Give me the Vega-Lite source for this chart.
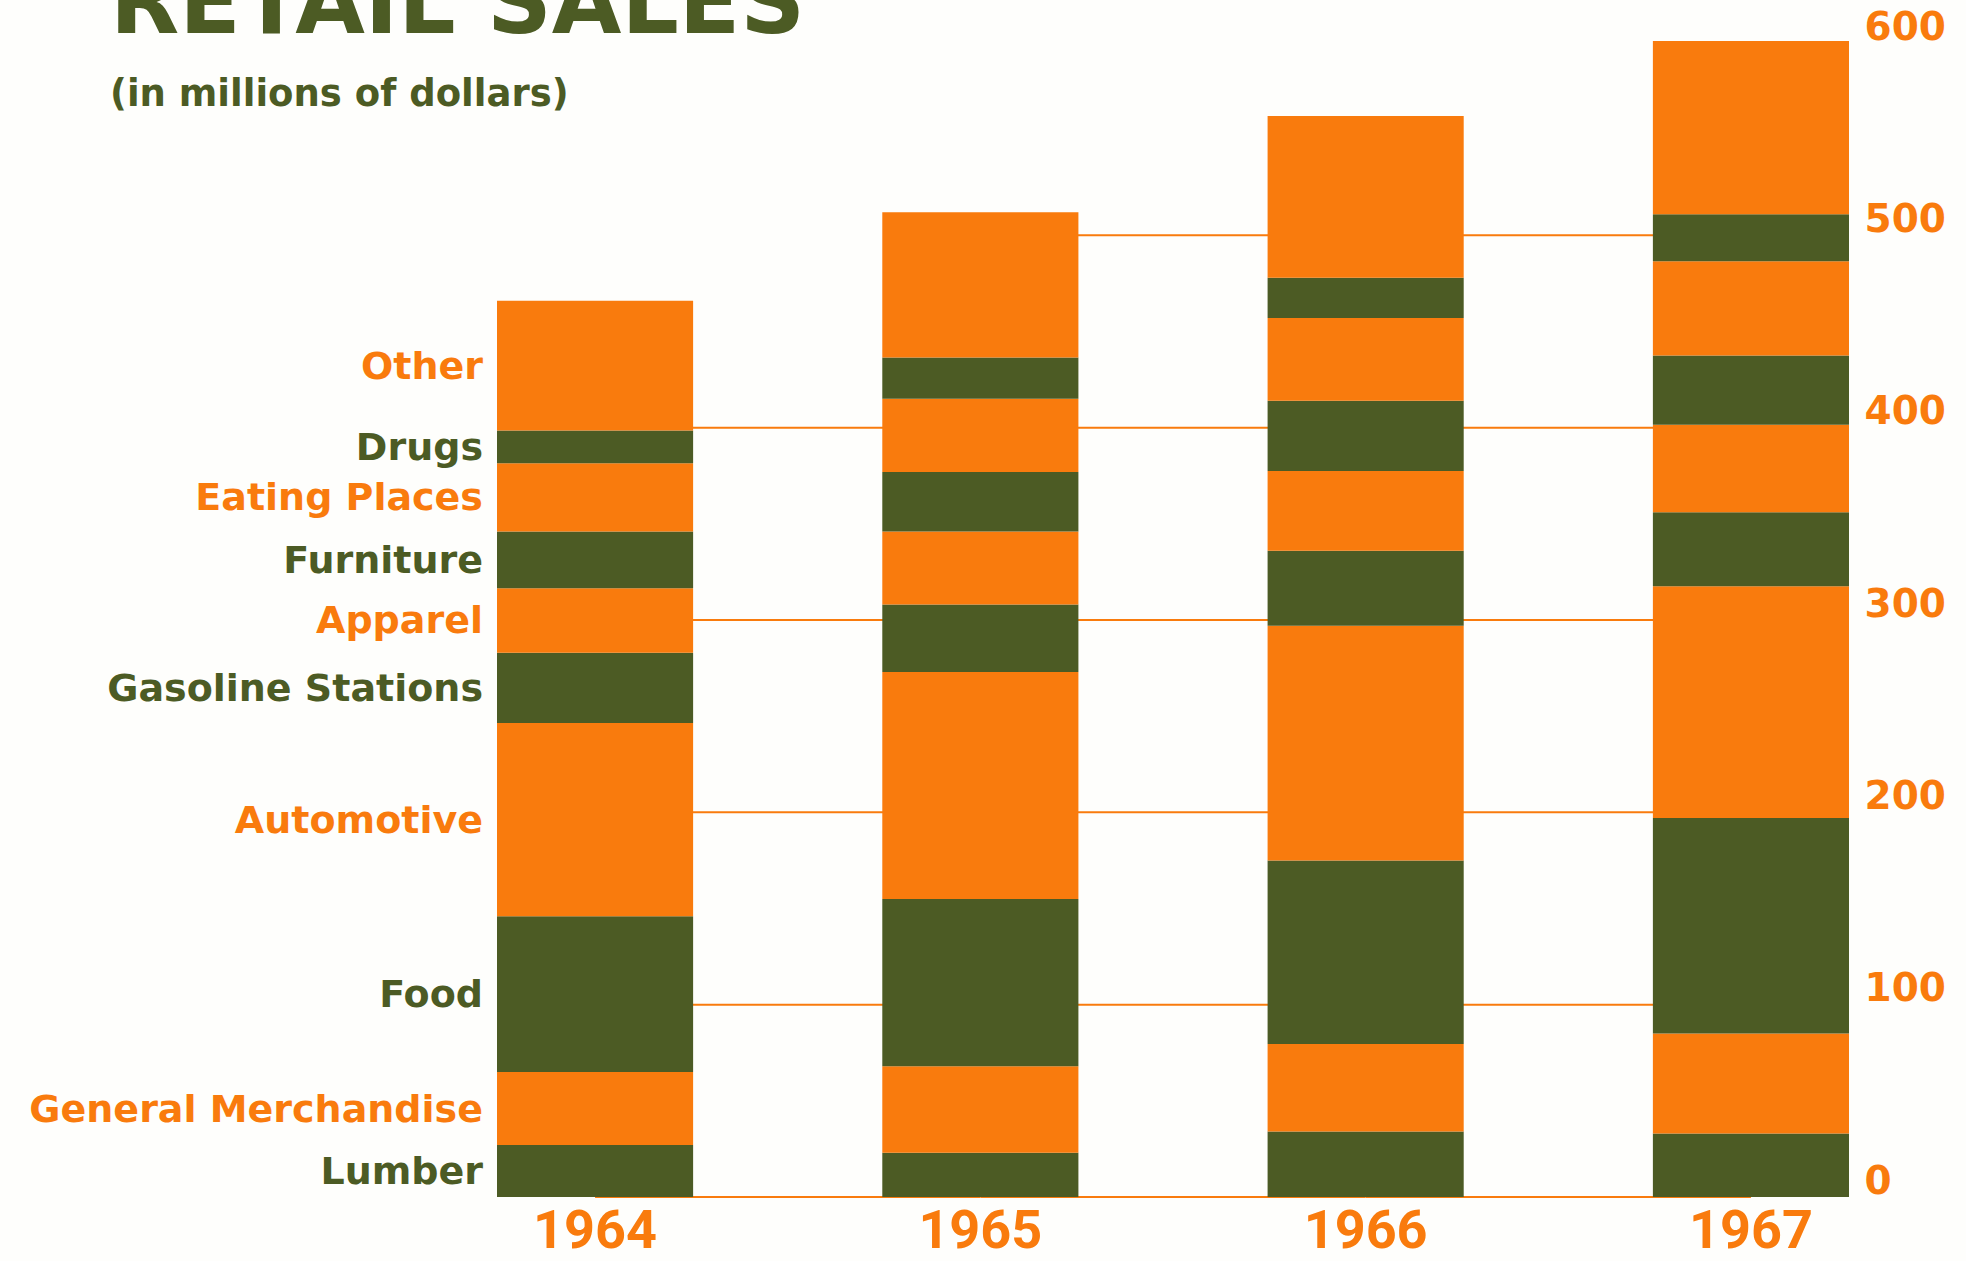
{
  "$schema": "https://vega.github.io/schema/vega-lite/v6.json",
  "width": 1352,
  "height": 1154,
  "autosize": {"type": "none"},
  "padding": {"left": 497, "top": 43, "right": 117, "bottom": 64},
  "background": "#FEFEFC",
  "config": {"view": {"stroke": null}},
  "title": {
    "text": "RETAIL  SALES",
    "subtitle": "(in millions of dollars)",
    "anchor": "start",
    "frame": "group",
    "dx": -387,
    "dy": 110,
    "font": "DejaVu Sans",
    "fontSize": 90,
    "fontWeight": "bold",
    "color": "#4C5B24",
    "subtitleFont": "DejaVu Sans",
    "subtitleFontSize": 37,
    "subtitleFontWeight": "bold",
    "subtitleColor": "#4C5B24",
    "subtitlePadding": 25
  },
  "datasets": {
    "sales": [
      {"year": "1964", "category": "Lumber", "value": 27},
      {"year": "1964", "category": "General Merchandise", "value": 38},
      {"year": "1964", "category": "Food", "value": 81},
      {"year": "1964", "category": "Automotive", "value": 100.5},
      {"year": "1964", "category": "Gasoline Stations", "value": 36.5},
      {"year": "1964", "category": "Apparel", "value": 33.5},
      {"year": "1964", "category": "Furniture", "value": 29.5},
      {"year": "1964", "category": "Eating Places", "value": 35.5},
      {"year": "1964", "category": "Drugs", "value": 17},
      {"year": "1964", "category": "Other", "value": 67.5},
      {"year": "1965", "category": "Lumber", "value": 23},
      {"year": "1965", "category": "General Merchandise", "value": 45},
      {"year": "1965", "category": "Food", "value": 87},
      {"year": "1965", "category": "Automotive", "value": 118},
      {"year": "1965", "category": "Gasoline Stations", "value": 35},
      {"year": "1965", "category": "Apparel", "value": 38},
      {"year": "1965", "category": "Furniture", "value": 31},
      {"year": "1965", "category": "Eating Places", "value": 38},
      {"year": "1965", "category": "Drugs", "value": 21.5},
      {"year": "1965", "category": "Other", "value": 75.5},
      {"year": "1966", "category": "Lumber", "value": 34},
      {"year": "1966", "category": "General Merchandise", "value": 45.5},
      {"year": "1966", "category": "Food", "value": 95.5},
      {"year": "1966", "category": "Automotive", "value": 122},
      {"year": "1966", "category": "Gasoline Stations", "value": 39},
      {"year": "1966", "category": "Apparel", "value": 41.5},
      {"year": "1966", "category": "Furniture", "value": 36.5},
      {"year": "1966", "category": "Eating Places", "value": 43},
      {"year": "1966", "category": "Drugs", "value": 21},
      {"year": "1966", "category": "Other", "value": 84},
      {"year": "1967", "category": "Lumber", "value": 33},
      {"year": "1967", "category": "General Merchandise", "value": 52},
      {"year": "1967", "category": "Food", "value": 112},
      {"year": "1967", "category": "Automotive", "value": 120.5},
      {"year": "1967", "category": "Gasoline Stations", "value": 38.5},
      {"year": "1967", "category": "Apparel", "value": 45.5},
      {"year": "1967", "category": "Furniture", "value": 36},
      {"year": "1967", "category": "Eating Places", "value": 49},
      {"year": "1967", "category": "Drugs", "value": 24.5},
      {"year": "1967", "category": "Other", "value": 90}
    ],
    "gridlines": [
      {"from": "1964", "to": "1965", "level": 0},
      {"from": "1964", "to": "1965", "level": 100},
      {"from": "1964", "to": "1965", "level": 200},
      {"from": "1964", "to": "1965", "level": 300},
      {"from": "1964", "to": "1965", "level": 400},
      {"from": "1965", "to": "1966", "level": 0},
      {"from": "1965", "to": "1966", "level": 100},
      {"from": "1965", "to": "1966", "level": 200},
      {"from": "1965", "to": "1966", "level": 300},
      {"from": "1965", "to": "1966", "level": 400},
      {"from": "1965", "to": "1966", "level": 500},
      {"from": "1966", "to": "1967", "level": 0},
      {"from": "1966", "to": "1967", "level": 100},
      {"from": "1966", "to": "1967", "level": 200},
      {"from": "1966", "to": "1967", "level": 300},
      {"from": "1966", "to": "1967", "level": 400},
      {"from": "1966", "to": "1967", "level": 500}
    ]
  },
  "layer": [
    {
      "data": {"name": "gridlines"},
      "mark": {"type": "rule", "color": "#F97B0D", "strokeWidth": 2},
      "encoding": {
        "x": {"field": "from", "type": "nominal"},
        "x2": {"field": "to"},
        "y": {"field": "level", "type": "quantitative"}
      }
    },
    {
      "data": {"name": "sales"},
      "transform": [
        {"calculate": "indexof(['Lumber','General Merchandise','Food','Automotive','Gasoline Stations','Apparel','Furniture','Eating Places','Drugs','Other'], datum.category)", "as": "k"}
      ],
      "mark": {"type": "bar"},
      "encoding": {
        "x": {
          "field": "year", "type": "nominal",
          "scale": {"paddingInner": 0.491, "paddingOuter": 0},
          "axis": {
            "orient": "bottom", "title": null, "domain": false, "ticks": false,
            "labelAngle": 0, "labelFont": "Roboto", "labelAlign": "center",
            "labelFontSize": 54, "labelFontWeight": "bold", "labelColor": "#F97B0D",
            "labelPadding": 50, "labelBaseline": "alphabetic"
          }
        },
        "y": {
          "aggregate": "sum", "field": "value", "type": "quantitative", "stack": "zero",
          "scale": {"domain": [0, 600], "nice": false},
          "axis": {
            "orient": "right", "title": null, "domain": false, "ticks": false, "grid": false,
            "values": [0, 100, 200, 300, 400, 500, 600],
            "labelFont": "DejaVu Sans", "labelFontSize": 39, "labelFontWeight": "bold",
            "labelColor": "#F97B0D", "labelPadding": 15, "labelOffset": -16,
            "labelFlush": false, "labelAlign": "left"
          }
        },
        "color": {
          "field": "category", "type": "nominal", "legend": null,
          "scale": {
            "domain": ["Lumber", "General Merchandise", "Food", "Automotive", "Gasoline Stations", "Apparel", "Furniture", "Eating Places", "Drugs", "Other"],
            "range": ["#4C5B24", "#F97B0D", "#4C5B24", "#F97B0D", "#4C5B24", "#F97B0D", "#4C5B24", "#F97B0D", "#4C5B24", "#F97B0D"]
          }
        },
        "order": {"field": "k", "type": "quantitative", "sort": "ascending"}
      }
    },
    {
      "data": {"name": "sales"},
      "transform": [
        {"filter": "datum.year == '1964'"},
        {"calculate": "indexof(['Lumber','General Merchandise','Food','Automotive','Gasoline Stations','Apparel','Furniture','Eating Places','Drugs','Other'], datum.category)", "as": "k"},
        {"stack": "value", "groupby": ["year"], "sort": [{"field": "k", "order": "ascending"}], "as": ["v0", "v1"]},
        {"calculate": "(datum.v0 + datum.v1) / 2", "as": "mid"}
      ],
      "mark": {"type": "text", "align": "right", "baseline": "middle", "dx": -14, "dy": 2, "font": "DejaVu Sans", "fontSize": 38, "fontWeight": "bold"},
      "encoding": {
        "x": {"field": "year", "type": "nominal", "bandPosition": 0},
        "y": {"field": "mid", "type": "quantitative"},
        "text": {"field": "category"},
        "color": {"field": "category", "type": "nominal", "legend": null}
      }
    }
  ]
}
